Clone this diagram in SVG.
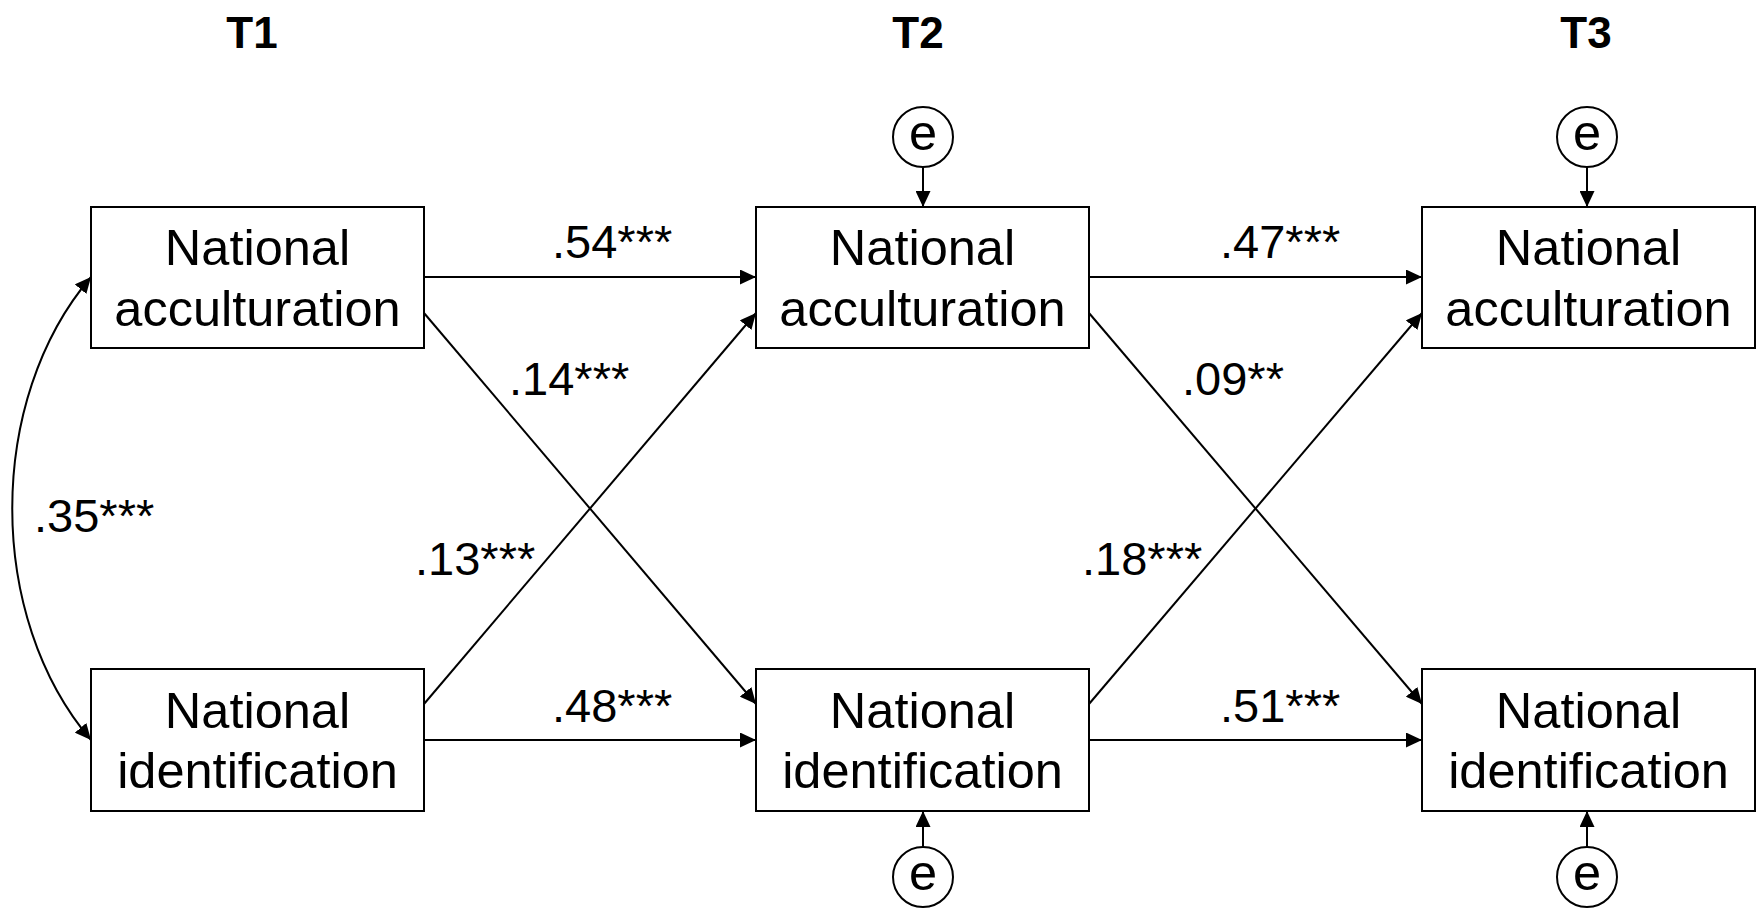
<svg xmlns="http://www.w3.org/2000/svg" width="1760" height="908" viewBox="0 0 1760 908">
<style>
.box{fill:#fff;stroke:#000;stroke-width:2}
.node{font-family:"Liberation Sans",Arial,sans-serif;font-size:50.5px;fill:#000;text-anchor:middle}
.lab{font-family:"Liberation Sans",Arial,sans-serif;font-size:47px;fill:#000}
.title{font-family:"Liberation Sans",Arial,sans-serif;font-size:44px;font-weight:bold;fill:#000;text-anchor:middle}
.con{fill:none;stroke:#000;stroke-width:2}
.err{fill:#fff;stroke:#000;stroke-width:2}
</style>
<defs>
<marker id="ah" markerUnits="userSpaceOnUse" markerWidth="16" markerHeight="15" refX="16" refY="7.5" orient="auto-start-reverse" viewBox="0 0 16 15">
<path d="M0,0 L16,7.5 L0,15 z" fill="#000"/>
</marker>
</defs>
<rect width="1760" height="908" fill="#fff"/>
<g id="titles">
<text class="title" x="252" y="48">T1</text>
<text class="title" x="918" y="48">T2</text>
<text class="title" x="1586" y="48">T3</text>
</g>
<g id="connectors">
<path class="con" d="M424,277 L756,277" marker-end="url(#ah)"/>
<path class="con" d="M424,740 L756,740" marker-end="url(#ah)"/>
<path class="con" d="M424,313 L756,704" marker-end="url(#ah)"/>
<path class="con" d="M424,704 L756,313" marker-end="url(#ah)"/>
<path class="con" d="M1089,277 L1422,277" marker-end="url(#ah)"/>
<path class="con" d="M1089,740 L1422,740" marker-end="url(#ah)"/>
<path class="con" d="M1089,313 L1422,704" marker-end="url(#ah)"/>
<path class="con" d="M1089,704 L1422,313" marker-end="url(#ah)"/>
<path class="con" d="M91,277 C-14,400 -14,617 91,740" marker-start="url(#ah)" marker-end="url(#ah)"/>
<path class="con" d="M923,167 L923,207" marker-end="url(#ah)"/>
<path class="con" d="M1587,167 L1587,207" marker-end="url(#ah)"/>
<path class="con" d="M923,847 L923,811" marker-end="url(#ah)"/>
<path class="con" d="M1587,847 L1587,811" marker-end="url(#ah)"/>
</g>
<g id="labels">
<text class="lab" x="552" y="258">.54***</text>
<text class="lab" x="509" y="395">.14***</text>
<text class="lab" x="34" y="532">.35***</text>
<text class="lab" x="415" y="575">.13***</text>
<text class="lab" x="552" y="722">.48***</text>
<text class="lab" x="1220" y="258">.47***</text>
<text class="lab" x="1182" y="395">.09**</text>
<text class="lab" x="1082" y="575">.18***</text>
<text class="lab" x="1220" y="722">.51***</text>
</g>
<g id="t1-acc">
<rect class="box" x="91" y="207" width="333" height="141"/>
<text class="node" x="257.5" y="265">National</text>
<text class="node" x="257.5" y="326">acculturation</text>
</g>
<g id="t1-id">
<rect class="box" x="91" y="669" width="333" height="142"/>
<text class="node" x="257.5" y="728">National</text>
<text class="node" x="257.5" y="788">identification</text>
</g>
<g id="t2-acc">
<rect class="box" x="756" y="207" width="333" height="141"/>
<text class="node" x="922.5" y="265">National</text>
<text class="node" x="922.5" y="326">acculturation</text>
</g>
<g id="t2-id">
<rect class="box" x="756" y="669" width="333" height="142"/>
<text class="node" x="922.5" y="728">National</text>
<text class="node" x="922.5" y="788">identification</text>
</g>
<g id="t3-acc">
<rect class="box" x="1422" y="207" width="333" height="141"/>
<text class="node" x="1588.5" y="265">National</text>
<text class="node" x="1588.5" y="326">acculturation</text>
</g>
<g id="t3-id">
<rect class="box" x="1422" y="669" width="333" height="142"/>
<text class="node" x="1588.5" y="728">National</text>
<text class="node" x="1588.5" y="788">identification</text>
</g>
<g id="e-t2-acc">
<circle class="err" cx="923" cy="137" r="30"/>
<text class="node" x="923" y="150">e</text>
</g>
<g id="e-t3-acc">
<circle class="err" cx="1587" cy="137" r="30"/>
<text class="node" x="1587" y="150">e</text>
</g>
<g id="e-t2-id">
<circle class="err" cx="923" cy="877" r="30"/>
<text class="node" x="923" y="890">e</text>
</g>
<g id="e-t3-id">
<circle class="err" cx="1587" cy="877" r="30"/>
<text class="node" x="1587" y="890">e</text>
</g>
</svg>
